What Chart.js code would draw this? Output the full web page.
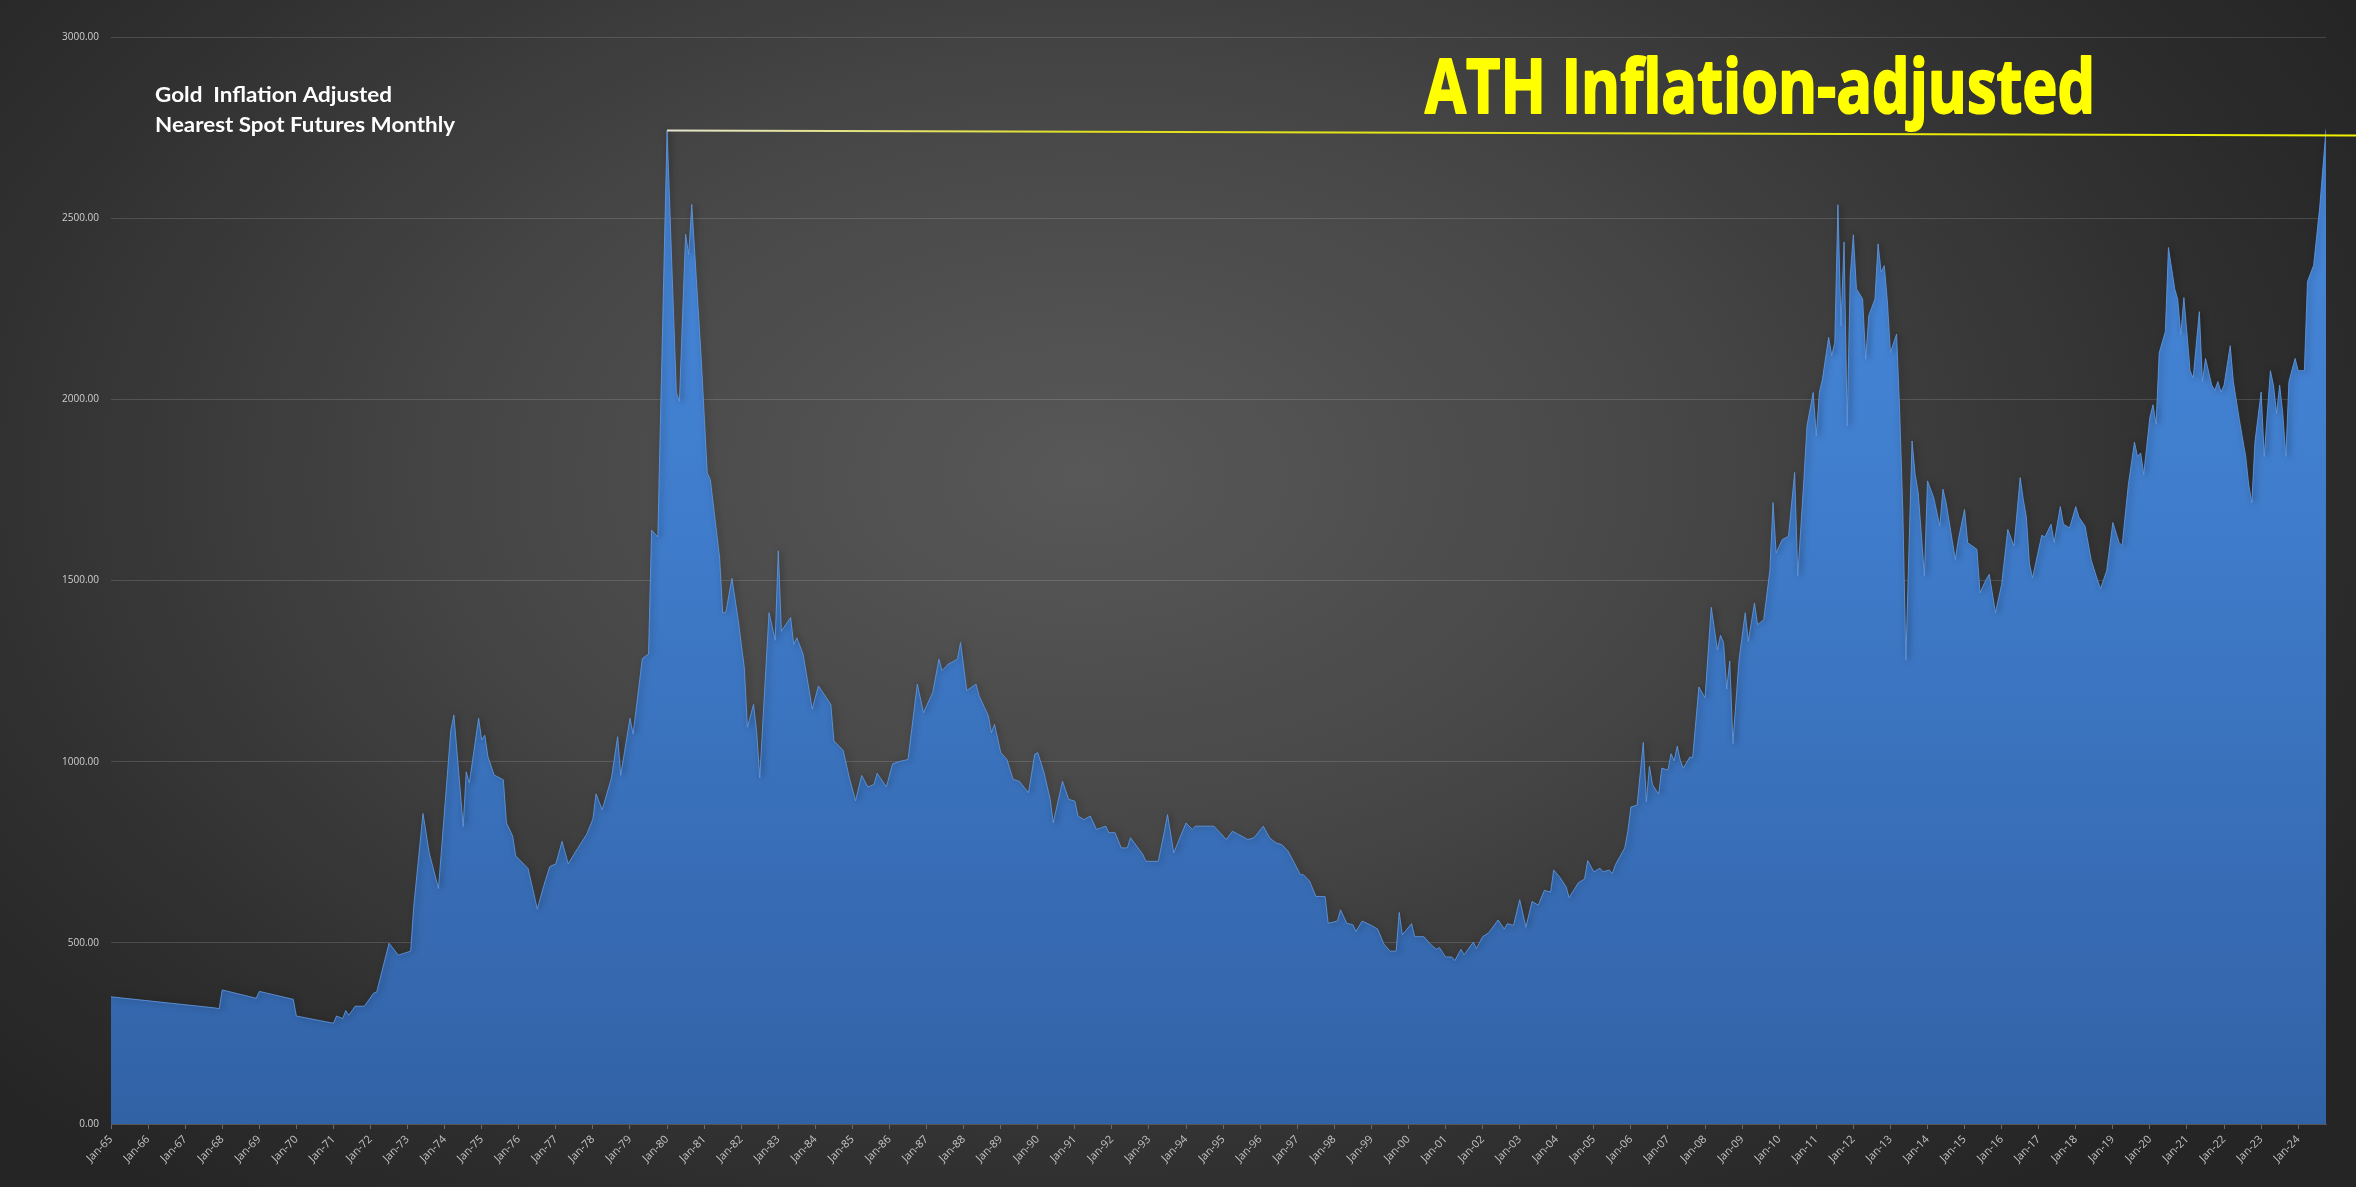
<!DOCTYPE html>
<html>
<head>
<meta charset="utf-8">
<title>Gold Inflation Adjusted</title>
<script src="https://cdn.jsdelivr.net/npm/chart.js@4.4.1/dist/chart.umd.min.js"></script>
<style>
  html, body { margin: 0; padding: 0; overflow: hidden; }
  body {
    width: 2356px; height: 1187px;
    background: radial-gradient(ellipse 62% 78% at 46% 40%, #585858 0%, #474747 40%, #2e2e2e 80%, #252525 100%);
  }
  #wrap { position: relative; width: 2356px; height: 1187px; }
</style>
</head>
<body>
<div id="wrap"><canvas id="goldChart"></canvas></div>
<script>
'use strict';
// month index counted from Jan-65
let months = [
  0, 34, 35, 36, 47, 48, 59, 60, 72, 73, 75, 76, 77, 79, 82, 85, 86, 90, 93, 97, 98,
  101, 103, 106, 110, 111, 114, 115, 116, 119, 120, 121, 122, 124, 127, 128, 130, 131,
  135, 138, 140, 142, 144, 146, 148, 151, 154, 156, 157, 159, 162, 164, 165, 168, 169,
  172, 174, 175, 177, 180, 183, 184, 186, 187, 188, 191, 193, 194, 197, 198, 199,
  201, 203, 205, 206, 208, 209, 210, 213, 215, 216, 217, 220, 221, 222, 224, 226, 227, 229,
  233, 234, 237, 239, 241, 243, 245, 247, 248, 251, 253, 255, 258,
  261, 263, 264, 266, 268, 269, 271, 274, 275, 277, 280, 281, 284, 285, 286, 288, 290,
  292, 294, 297, 299, 300, 302, 304, 305, 308, 310, 312, 313, 315, 317, 319,
  322, 323, 325, 327, 329, 330, 332, 334, 335, 339, 341, 342, 344, 346, 348, 350,
  351, 354, 357, 359, 361, 363, 365, 368, 370, 373, 375, 377, 379, 381, 383, 385,
  386, 388, 390, 393, 394, 397, 398, 400, 402, 403, 405, 408, 410, 412, 414, 416,
  417, 418, 421, 422, 425, 427, 429, 430, 432, 434, 435, 437, 438, 441, 442, 444,
  446, 449, 451, 452, 454, 456, 458, 460, 462, 464, 466, 467, 469, 471, 472, 475,
  477, 478, 480, 482, 483, 485, 486, 487, 490, 491, 492, 494, 496, 497, 498, 499,
  501, 502, 504, 505, 506, 507, 508, 509, 511, 512, 514, 516, 518, 520, 521, 522,
  523, 524, 525, 527, 529, 530, 532, 533, 535, 537, 538, 539, 541, 543, 545, 546,
  548, 549, 551, 552, 553, 554, 556, 557, 558, 559, 560, 561, 562, 563, 564, 565,
  567, 568, 569, 571, 572, 573, 574, 575, 576, 578, 579, 580, 581, 583, 584, 585,
  587, 588, 590, 592, 593, 594, 597, 598, 600, 601, 604, 605, 607, 608, 610, 612,
  614, 616, 618, 619, 620, 621, 622, 625, 626, 628, 629, 631, 632, 634, 636, 637,
  639, 641, 643, 644, 646, 648, 650, 651, 653, 655, 656, 657, 658, 660, 661, 662,
  663, 665, 666, 668, 669, 670, 671, 673, 674, 676, 677, 678, 680, 681, 682, 683,
  684, 686, 687, 689, 691, 692, 693, 694, 696, 697, 699, 700, 701, 702, 703, 704,
  705, 707, 708, 710, 711, 713, 715, 717
];
let goldValues = [
  351, 320, 318, 370, 347, 366, 344, 298, 278, 298, 291, 313, 300, 325, 325, 361, 364, 499, 466, 477, 600,
  857, 748, 650, 1087, 1129, 821, 972, 941, 1120, 1060, 1073, 1014, 963, 950, 831, 795, 740,
  705, 593, 655, 710, 718, 780, 718, 760, 800, 842, 911, 867, 955, 1069, 962, 1120, 1076,
  1285, 1297, 1639, 1620, 2742, 2019, 1994, 2456, 2399, 2538, 2120, 1797, 1778, 1563, 1411, 1411,
  1506, 1392, 1259, 1095, 1158, 1082, 955, 1411, 1335, 1582, 1360, 1398, 1323, 1342, 1297, 1196, 1145, 1209,
  1158, 1057, 1031, 955, 892, 962, 930, 937, 968, 930, 994, 1000, 1006,
  1214, 1135, 1154, 1191, 1283, 1251, 1269, 1283, 1329, 1196, 1214, 1182, 1126, 1080, 1103, 1025, 1006,
  951, 946, 914, 1020, 1025, 970, 896, 831, 946, 896, 891, 850, 840, 850, 813,
  822, 804, 804, 762, 762, 790, 767, 744, 725, 725, 808, 854, 748, 790, 831, 813,
  822, 822, 822, 804, 785, 808, 799, 785, 790, 822, 790, 776, 771, 753, 721, 688,
  688, 670, 628, 628, 554, 560, 591, 554, 550, 531, 560, 548, 538, 497, 477, 477,
  584, 522, 553, 517, 517, 497, 482, 487, 461, 461, 451, 482, 467, 502, 484, 517,
  528, 563, 538, 553, 548, 619, 543, 614, 604, 645, 640, 701, 681, 655, 625, 666,
  676, 727, 696, 706, 696, 701, 691, 716, 762, 808, 875, 880, 1053, 890, 987, 936,
  910, 982, 977, 1022, 1002, 1043, 1002, 982, 1012, 1012, 1206, 1176, 1426, 1308, 1349, 1329,
  1200, 1278, 1050, 1281, 1411, 1332, 1438, 1378, 1392, 1530, 1715, 1576, 1613, 1622, 1798, 1512,
  1779, 1927, 2019, 1899, 2019, 2056, 2171, 2120, 2157, 2537, 2203, 2434, 1927, 2341, 2454, 2305,
  2277, 2111, 2231, 2277, 2429, 2351, 2369, 2272, 2129, 2180, 1964, 1696, 1281, 1885, 1793, 1742,
  1512, 1775, 1729, 1650, 1752, 1715, 1558, 1613, 1696, 1604, 1586, 1466, 1503, 1517, 1411, 1489,
  1641, 1595, 1784, 1724, 1675, 1546, 1507, 1625, 1620, 1655, 1605, 1704, 1655, 1645, 1704, 1675,
  1650, 1556, 1502, 1477, 1527, 1660, 1605, 1596, 1763, 1882, 1842, 1852, 1793, 1951, 1985, 1931,
  2128, 2187, 2419, 2306, 2276, 2178, 2281, 2079, 2059, 2242, 2049, 2113, 2039, 2025, 2049, 2020,
  2039, 2148, 2049, 1941, 1842, 1763, 1714, 1882, 2020, 1842, 2079, 2039, 1961, 2039, 1961, 1842,
  2049, 2113, 2079, 2079, 2325, 2370, 2533, 2745
];
let yearLabels = [
  'Jan-65', 'Jan-66', 'Jan-67', 'Jan-68', 'Jan-69', 'Jan-70', 'Jan-71', 'Jan-72', 'Jan-73', 'Jan-74',
  'Jan-75', 'Jan-76', 'Jan-77', 'Jan-78', 'Jan-79', 'Jan-80', 'Jan-81', 'Jan-82', 'Jan-83', 'Jan-84',
  'Jan-85', 'Jan-86', 'Jan-87', 'Jan-88', 'Jan-89', 'Jan-90', 'Jan-91', 'Jan-92', 'Jan-93', 'Jan-94',
  'Jan-95', 'Jan-96', 'Jan-97', 'Jan-98', 'Jan-99', 'Jan-00', 'Jan-01', 'Jan-02', 'Jan-03', 'Jan-04',
  'Jan-05', 'Jan-06', 'Jan-07', 'Jan-08', 'Jan-09', 'Jan-10', 'Jan-11', 'Jan-12', 'Jan-13', 'Jan-14',
  'Jan-15', 'Jan-16', 'Jan-17', 'Jan-18', 'Jan-19', 'Jan-20', 'Jan-21', 'Jan-22', 'Jan-23', 'Jan-24'
];
// the yellow "all time high" line, from the 1980 peak to the right edge
let athMonths = [180, 727];
let athValues = [2742, 2728];

let goldPoints = [];
for (let i = 0; i < months.length; i++) {
  goldPoints.push({ x: months[i], y: goldValues[i] });
}
let athPoints = [];
for (let i = 0; i < athMonths.length; i++) {
  athPoints.push({ x: athMonths[i], y: athValues[i] });
}

// squeeze/stretch a text so it takes the given width
function fitText(ctx, text, x, baseline, width, font, color, stroke) {
  ctx.save();
  ctx.font = font;
  ctx.fillStyle = color;
  ctx.textBaseline = 'alphabetic';
  ctx.textAlign = 'left';
  let w = ctx.measureText(text).width;
  ctx.translate(x, baseline);
  ctx.scale(width / w, 1);
  ctx.fillText(text, 0, 0);
  if (stroke) {
    ctx.strokeStyle = color;
    ctx.lineWidth = stroke;
    ctx.lineJoin = 'round';
    ctx.strokeText(text, 0, 0);
  }
  ctx.restore();
}

const areaShadow = {
  id: 'areaShadow',
  beforeDatasetDraw(chart, args) {
    if (args.index !== 0) return;
    let ctx = chart.ctx;
    ctx.save();
    ctx.shadowColor = 'rgba(0, 0, 0, 0.65)';
    ctx.shadowBlur = 6;
    ctx.shadowOffsetX = 2;
    ctx.shadowOffsetY = 0;
  },
  afterDatasetDraw(chart, args) {
    if (args.index !== 0) return;
    chart.ctx.restore();
  }
};

const titles = {
  id: 'titles',
  afterDraw(chart) {
    let ctx = chart.ctx;
    fitText(ctx, 'Gold  Inflation Adjusted', 155, 102, 237, 'bold 21px Lato', '#ffffff');
    fitText(ctx, 'Nearest Spot Futures Monthly', 155, 132, 300, 'bold 21px Lato', '#ffffff');
    fitText(ctx, 'ATH Inflation-adjusted', 1425, 113, 670, 'bold 76px "Open Sans"', '#ffff00', 2);
  }
};

let ctx = document.getElementById('goldChart').getContext('2d');
let goldChart = new Chart(ctx, {
  type: 'line',
  data: {
    datasets: [{
      label: 'Gold inflation adjusted',
      data: goldPoints,
      fill: 'origin',
      pointRadius: 0,
      tension: 0,
      borderWidth: 1,
      borderColor: 'rgba(96, 152, 225, 0.85)',
      backgroundColor: function (context) {
        let area = context.chart.chartArea;
        if (!area) return '#3a6fb8';
        let g = context.chart.ctx.createLinearGradient(0, area.top, 0, area.bottom);
        g.addColorStop(0, '#4a8ce0');
        g.addColorStop(0.45, '#3f7ccb');
        g.addColorStop(1, '#3262a6');
        return g;
      },
      order: 1
    }, {
      label: 'ATH',
      data: athPoints,
      fill: false,
      pointRadius: 0,
      borderWidth: 2,
      clip: false,
      borderColor: function (context) {
        let chart = context.chart;
        if (!chart.chartArea) return '#e6e600';
        let x0 = chart.scales.x.getPixelForValue(180);
        let g = chart.ctx.createLinearGradient(x0, 0, chart.width, 0);
        g.addColorStop(0, '#e4e4d0');
        g.addColorStop(0.25, '#e0e020');
        g.addColorStop(1, '#f0f000');
        return g;
      },
      order: 0
    }]
  },
  options: {
    responsive: true,
    maintainAspectRatio: false,
    animation: false,
    layout: { padding: { top: 37, right: 30, bottom: 0, left: 0 } },
    plugins: {
      legend: { display: false },
      tooltip: { enabled: false }
    },
    scales: {
      x: {
        type: 'linear',
        min: 0,
        max: 717,
        afterBuildTicks: function (scale) {
          scale.ticks = yearLabels.map(function (l, i) { return { value: i * 12 }; });
        },
        afterFit: function (scale) { scale.height = 63; },
        ticks: {
          autoSkip: false,
          minRotation: 45,
          maxRotation: 45,
          padding: 4,
          color: '#c4c4c4',
          font: { family: '"Open Sans"', size: 11 },
          callback: function (value) { return yearLabels[Math.round(value / 12)]; }
        },
        grid: {
          display: true,
          drawOnChartArea: false,
          drawTicks: true,
          tickLength: 5,
          color: '#6a6a6a'
        },
        border: { display: true, color: '#555555' }
      },
      y: {
        min: 0,
        max: 3000,
        afterFit: function (scale) { scale.width = 111; },
        ticks: {
          stepSize: 500,
          padding: 12,
          color: '#cfcfcf',
          font: { family: '"Open Sans"', size: 10 },
          callback: function (value) { return value.toFixed(2); }
        },
        grid: {
          color: 'rgba(255, 255, 255, 0.14)',
          lineWidth: 1,
          drawTicks: false
        },
        border: { display: false }
      }
    }
  },
  plugins: [areaShadow, titles]
});
</script>
</body>
</html>
